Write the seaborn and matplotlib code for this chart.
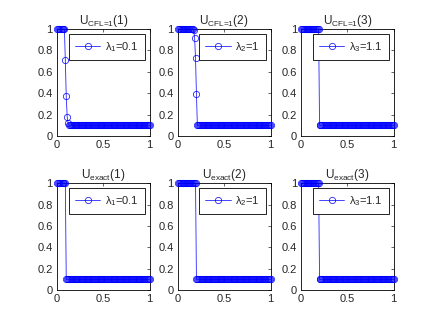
import matplotlib
matplotlib.use("Agg")
import matplotlib.pyplot as plt
import seaborn as sns
import pandas as pd

sns.set_style("white")
plt.rcParams['font.family'] = ['Liberation Sans', 'DejaVu Sans']
plt.rcParams['mathtext.fontset'] = 'custom'
plt.rcParams['mathtext.rm'] = 'Liberation Sans'
plt.rcParams['mathtext.it'] = 'Liberation Sans'

# grid points 0, 0.01, ..., 1
x = [round(i / 100, 2) for i in range(101)]

# numerical solution (CFL=1)
u_cfl_1 = [1.0] * 9 + [0.71, 0.37, 0.18, 0.12, 0.105] + [0.1] * 87
u_cfl_2 = [1.0] * 17 + [0.99, 0.92, 0.73, 0.39] + [0.1] * 80
u_cfl_3 = [1.0] * 20 + [0.1] * 81
# exact solution
u_ex_1 = [1.0] * 10 + [0.1] * 91
u_ex_2 = [1.0] * 20 + [0.1] * 81
u_ex_3 = [1.0] * 20 + [0.1] * 81

titles = [r'U$_{\text{CFL=1}}$(1)', r'U$_{\text{CFL=1}}$(2)', r'U$_{\text{CFL=1}}$(3)',
          r'U$_{\text{exact}}$(1)', r'U$_{\text{exact}}$(2)', r'U$_{\text{exact}}$(3)']
labels = [r'$\lambda_1$=0.1', r'$\lambda_2$=1', r'$\lambda_3$=1.1'] * 2
series = [u_cfl_1, u_cfl_2, u_cfl_3, u_ex_1, u_ex_2, u_ex_3]

xticks = [0, 0.5, 1]
xticklabels = ['0', '0.5', '1']
yticks = [0, 0.2, 0.4, 0.6, 0.8, 1]
yticklabels = ['0', '0.2', '0.4', '0.6', '0.8', '1']

fig = plt.figure(figsize=(4.35, 3.27), dpi=100)
lefts = [0.131, 0.409, 0.692]
bottoms = [0.584, 0.113]
for k in range(6):
    r, c = divmod(k, 3)
    ax = fig.add_axes([lefts[c], bottoms[r], 0.213, 0.327])
    df = pd.DataFrame({'x': x, 'u': series[k]})
    sns.lineplot(data=df, x='x', y='u', ax=ax, color='blue', lw=0.6,
                 marker='o', markersize=4.5, markerfacecolor='none',
                 markeredgecolor='blue', markeredgewidth=0.6, alpha=0.85,
                 label=labels[k], clip_on=False, zorder=3)
    ax.set_xlim(0, 1)
    ax.set_ylim(0, 1)
    ax.set_xticks(xticks)
    ax.set_xticklabels(xticklabels)
    ax.set_yticks(yticks)
    ax.set_yticklabels(yticklabels)
    ax.set_xlabel('')
    ax.set_ylabel('')
    ax.tick_params(direction='in', length=2.5, width=0.5, labelsize=8,
                   top=True, right=True, pad=3)
    for s in ax.spines.values():
        s.set_linewidth(0.6)
        s.set_color('black')
    ax.set_title(titles[k], fontsize=8.5, pad=4)
    leg = ax.legend(loc='upper right', fontsize=8, frameon=True, fancybox=False,
                    framealpha=1, edgecolor='black', borderaxespad=0.45,
                    handlelength=2.3, borderpad=0.55, handletextpad=0.4)
    leg.get_frame().set_linewidth(0.6)
    leg.set_zorder(5)

fig.savefig('out.png', dpi=100)
